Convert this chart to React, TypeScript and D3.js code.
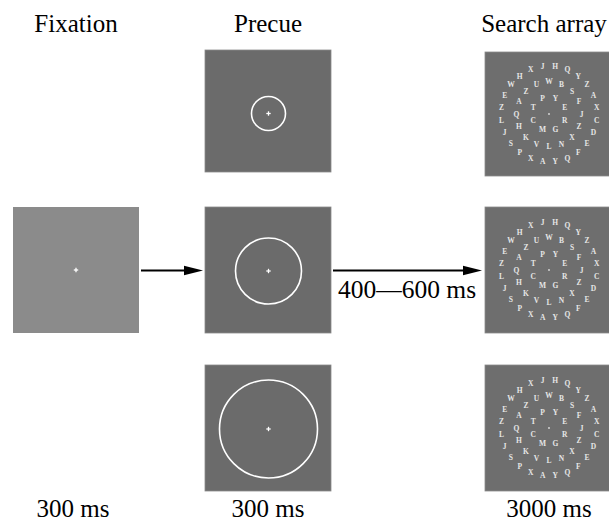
import React from "react";
import * as d3 from "d3";

// ---- data ----
const columnTitles = ["Fixation", "Precue", "Search array"];
const durations = ["300 ms", "300 ms", "3000 ms"];
const isiLabel = "400\u2014600 ms";
const precueRadii = [17, 33, 49];
const innerRing = ["Y", "E", "R", "G", "M", "C", "T", "P"];
const middleRing = ["W", "B", "S", "F", "J", "Z", "X", "N", "L", "V", "K", "H", "Q", "A", "Z", "U"];
const outerRing = ["H", "Q", "Y", "Z", "A", "X", "C", "D", "E", "F", "Q", "Y", "A", "X", "P", "S", "J", "L", "Z", "E", "W", "H", "X", "J"];
const ringRadii = [17, 32.5, 48];
const ringOffsets = [22.5, 0, 7.5];

const W = 609;
const H = 522;
const FONT = "'Liberation Serif', 'Times New Roman', Times, serif";

const colX = d3.scaleOrdinal<number, number>().domain([0, 1, 2]).range([13, 205, 485]);
const rowY = d3.scaleOrdinal<number, number>().domain([0, 1, 2]).range([50, 207, 365]);
const BOX = 126;
const BOXH = [122, 126, 126];

function Cross({ cx, cy }: { cx: number; cy: number }) {
  return (
    <g stroke="#fff" strokeWidth={1.3}>
      <line x1={cx - 2.2} x2={cx + 2.2} y1={cy} y2={cy} />
      <line x1={cx} x2={cx} y1={cy - 2.2} y2={cy + 2.2} />
    </g>
  );
}

function Arrow({ x1, x2, y }: { x1: number; x2: number; y: number }) {
  const head = 19;
  const hw = 4.8;
  const p = d3.path();
  p.moveTo(x2, y);
  p.lineTo(x2 - head, y - hw);
  p.lineTo(x2 - head, y + hw);
  p.closePath();
  return (
    <g>
      <line x1={x1} x2={x2 - head + 1} y1={y} y2={y} stroke="#000" strokeWidth={2} />
      <path d={p.toString()} fill="#000" />
    </g>
  );
}

function SearchArray({ x, y, h }: { x: number; y: number; h: number }) {
  const cx = x + 64;
  const cy = y + h / 2;
  const rings = [innerRing, middleRing, outerRing];
  return (
    <g>
      <rect x={x} y={y} width={BOX} height={h} fill="#6e6e6e" stroke="#8a8a8a" strokeWidth={0.8} />
      <circle cx={cx} cy={cy} r={0.9} fill="#ddd" />
      {rings.map((letters, ri) => {
        const ang = d3.scaleLinear().domain([0, letters.length]).range([0, 360]);
        return letters.map((L, i) => {
          const a = ((ang(i) + ringOffsets[ri]) * Math.PI) / 180;
          const lx = cx + ringRadii[ri] * Math.sin(a);
          const ly = cy - ringRadii[ri] * Math.cos(a);
          return (
            <text
              key={`${ri}-${i}`}
              x={lx}
              y={ly}
              dy="0.35em"
              textAnchor="middle"
              fontFamily={FONT}
              fontWeight="bold"
              fontSize={7.5}
              fill="#e6e6e6"
            >
              {L}
            </text>
          );
        });
      })}
    </g>
  );
}

export default function App() {
  const titleX = [76, 268, 544];
  const durX = [73, 268, 549];
  return (
    <svg
      width={W}
      height={H}
      viewBox={`0 0 ${W} ${H}`}
      style={{ position: "absolute", left: 0, top: 0, background: "#fff" }}
    >
      <rect x={0} y={0} width={W} height={H} fill="#fff" />
      {columnTitles.map((t, i) => (
        <text key={t} x={titleX[i]} y={32} textAnchor="middle" fontFamily={FONT} fontSize={25} fill="#000">
          {t}
        </text>
      ))}
      {durations.map((t, i) => (
        <text key={i} x={durX[i]} y={517} textAnchor="middle" fontFamily={FONT} fontSize={25} fill="#000">
          {t}
        </text>
      ))}

      {/* Fixation */}
      <rect x={colX(0)} y={rowY(1)} width={BOX} height={BOXH[1]} fill="#8b8b8b" />
      <Cross cx={colX(0) + BOX / 2} cy={rowY(1) + BOXH[1] / 2} />

      {/* Precue */}
      {precueRadii.map((r, i) => {
        const x = colX(1);
        const y = rowY(i);
        const cx = x + 63.5;
        const cy = y + BOXH[i] / 2 + (i === 0 ? 2.5 : 1);
        return (
          <g key={i}>
            <rect x={x} y={y} width={BOX} height={BOXH[i]} fill="#6b6b6b" stroke="#8a8a8a" strokeWidth={0.8} />
            <circle cx={cx} cy={cy} r={r} fill="none" stroke="#fff" strokeWidth={1.6} />
            <Cross cx={cx} cy={cy} />
          </g>
        );
      })}

      {/* Search arrays */}
      {[0, 1, 2].map((i) => (
        <SearchArray key={i} x={colX(2)} y={rowY(i) + (i === 0 ? 2 : 0)} h={BOXH[1] - (i === 0 ? 2 : 0)} />
      ))}

      <Arrow x1={141} x2={203} y={270.5} />
      <Arrow x1={333} x2={482} y={270.5} />
      <text x={407} y={298} textAnchor="middle" fontFamily={FONT} fontSize={25.5} fill="#000">
        {isiLabel}
      </text>
    </svg>
  );
}
